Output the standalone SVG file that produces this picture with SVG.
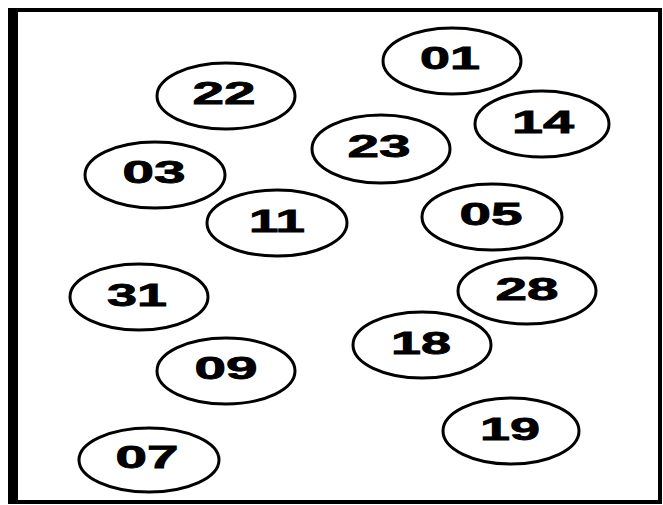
<svg xmlns="http://www.w3.org/2000/svg" width="663" height="505" viewBox="0 0 663 505">
<style>
.n ellipse{fill:#fff;stroke:#000;stroke-width:3}
.n text{font-family:"Liberation Sans",Arial,sans-serif;font-weight:bold;font-size:31px;fill:#000;stroke:#000;stroke-width:0.8;text-anchor:middle}
</style>
<rect x="0" y="0" width="663" height="505" fill="#fff"/>
<g id="frame">
<rect x="8" y="8" width="10" height="496" fill="#000"/>
<rect x="8" y="8" width="654" height="4" fill="#000"/>
<rect x="658" y="8" width="4" height="496" fill="#000"/>
<rect x="8" y="500" width="654" height="4" fill="#000"/>
</g>
<g id="connectors"></g>
<g id="n01" class="n"><ellipse cx="452" cy="61" rx="69" ry="33"/><text x="450" y="69" textLength="60" lengthAdjust="spacingAndGlyphs">01</text></g>
<g id="n22" class="n"><ellipse cx="226" cy="96" rx="69" ry="33"/><text x="224" y="104" textLength="63" lengthAdjust="spacingAndGlyphs">22</text></g>
<g id="n14" class="n"><ellipse cx="542" cy="124" rx="67" ry="33"/><text x="543" y="133" textLength="62" lengthAdjust="spacingAndGlyphs">14</text></g>
<g id="n23" class="n"><ellipse cx="381" cy="149" rx="69" ry="34"/><text x="379" y="157" textLength="63" lengthAdjust="spacingAndGlyphs">23</text></g>
<g id="n03" class="n"><ellipse cx="155" cy="175" rx="70" ry="33"/><text x="154" y="183" textLength="63" lengthAdjust="spacingAndGlyphs">03</text></g>
<g id="n11" class="n"><ellipse cx="277" cy="223" rx="70" ry="33"/><text x="277" y="232" textLength="56" lengthAdjust="spacingAndGlyphs">11</text></g>
<g id="n05" class="n"><ellipse cx="492" cy="217" rx="70" ry="33"/><text x="491" y="225" textLength="63" lengthAdjust="spacingAndGlyphs">05</text></g>
<g id="n31" class="n"><ellipse cx="139" cy="297" rx="69" ry="33"/><text x="137" y="306" textLength="60" lengthAdjust="spacingAndGlyphs">31</text></g>
<g id="n28" class="n"><ellipse cx="527" cy="291" rx="69" ry="33"/><text x="527" y="300" textLength="63" lengthAdjust="spacingAndGlyphs">28</text></g>
<g id="n18" class="n"><ellipse cx="422" cy="345" rx="69" ry="33"/><text x="421" y="354" textLength="60" lengthAdjust="spacingAndGlyphs">18</text></g>
<g id="n09" class="n"><ellipse cx="226" cy="371" rx="69" ry="33"/><text x="226" y="379" textLength="63" lengthAdjust="spacingAndGlyphs">09</text></g>
<g id="n19" class="n"><ellipse cx="511" cy="431" rx="68" ry="33"/><text x="510" y="440" textLength="60" lengthAdjust="spacingAndGlyphs">19</text></g>
<g id="n07" class="n"><ellipse cx="149" cy="460" rx="70" ry="32"/><text x="147" y="468" textLength="63" lengthAdjust="spacingAndGlyphs">07</text></g>
</svg>
